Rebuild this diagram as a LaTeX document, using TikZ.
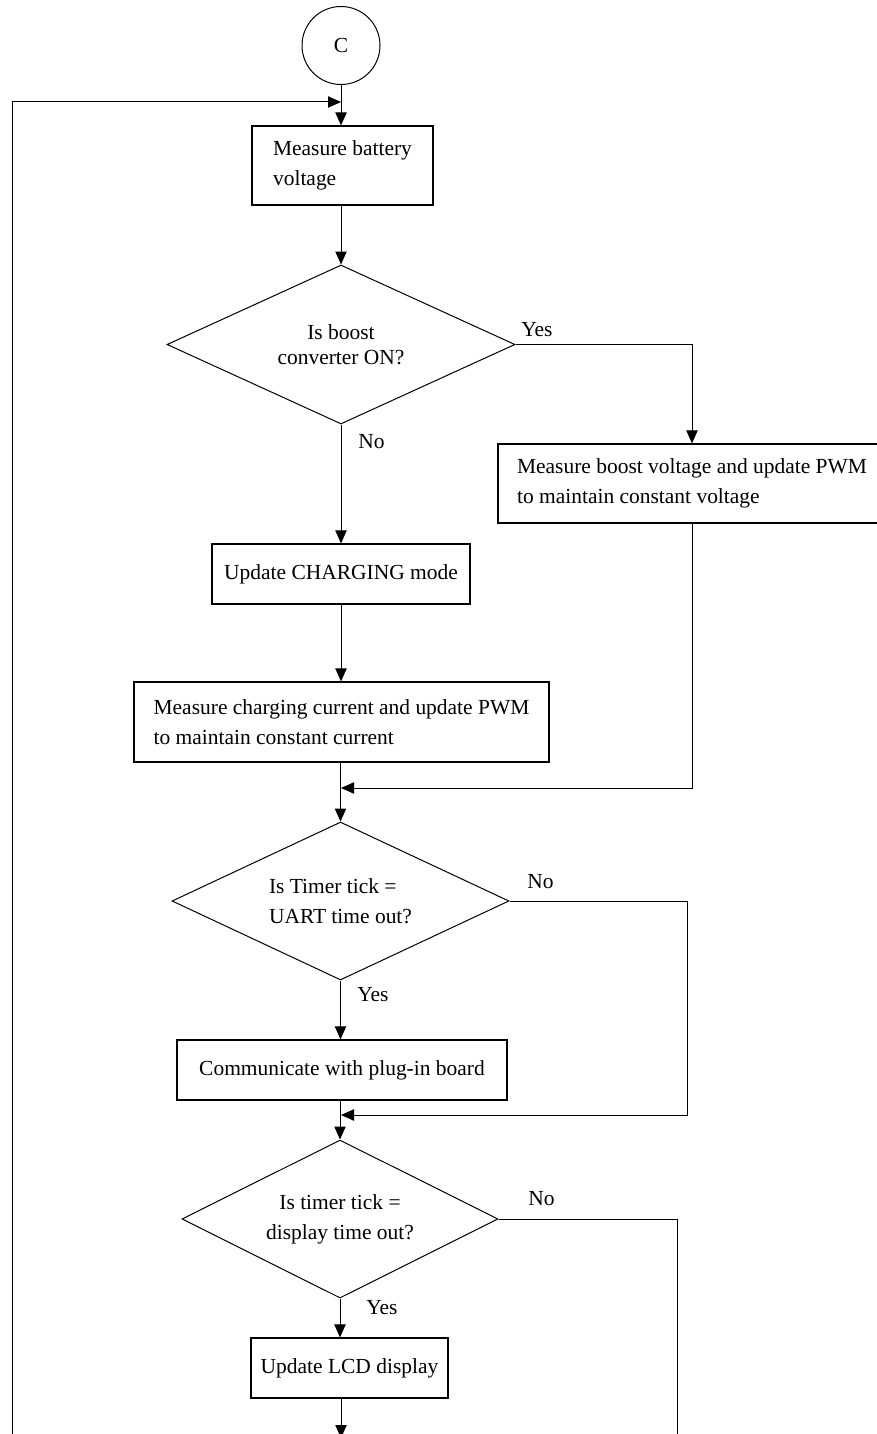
\documentclass[tikz,border=0pt]{standalone}
\usepackage{fontspec}
\setmainfont{Liberation Serif}
\usetikzlibrary{shapes.geometric,arrows.meta}

\tikzset{
	procbox/.style={draw, rectangle, line width=0.9pt, inner sep=2pt, align=left},
	decide/.style={draw, diamond, aspect=2.2, line width=0.75pt, inner sep=0pt},
	flow/.style={line width=0.75pt, -{Triangle[length=9.75pt,width=8.5pt]}},
	plain/.style={line width=0.75pt},
	lbl/.style={anchor=north west, inner sep=0.75pt}
}

\begin{document}
\begin{tikzpicture}[x=0.75pt,y=0.75pt,yscale=-1,xscale=1,font=\fontsize{16.1pt}{22.5pt}\selectfont]
	\useasboundingbox (0,0) rectangle (877,1434);
	
	%Shape: Circle [connector C]
	\node [draw, circle, line width=0.75pt, minimum size=58.5pt, inner sep=0pt] (conC) at (341,45.5) {C};
	%Shape: Rectangle
	\node [procbox, minimum width=135.75pt, minimum height=59.25pt] (battV) at (342.5,165.5) {Measure battery\\voltage};
	%Shape: Diamond
	\node [decide, align=center, minimum width=261pt, minimum height=119.25pt, font=\fontsize{16.1pt}{19pt}\selectfont] (isBoost) at (341,344.5) {Is boost\\converter ON?};
	%Shape: Rectangle
	\node [procbox, minimum width=291pt, minimum height=59.25pt] (boostV) at (692,483.5) {Measure boost voltage and update PWM\\to maintain constant voltage};
	%Shape: Rectangle
	\node [procbox, minimum width=193.5pt, minimum height=45pt] (chgMode) at (341,574) {Update CHARGING mode};
	%Shape: Rectangle
	\node [procbox, minimum width=311.25pt, minimum height=60pt] (chgI) at (341.5,722) {Measure charging current and update PWM\\to maintain constant current};
	%Shape: Diamond
	\node [decide, align=left, minimum width=252.75pt, minimum height=118.5pt] (isUart) at (340.5,901) {Is Timer tick =\\UART time out?};
	%Shape: Rectangle
	\node [procbox, minimum width=247.5pt, minimum height=45pt] (plugIn) at (342,1070) {Communicate with plug-in board};
	%Shape: Diamond
	\node [decide, align=center, minimum width=237pt, minimum height=118.5pt] (isDisp) at (340,1219) {Is timer tick =\\display time out?};
	%Shape: Rectangle
	\node [procbox, minimum width=147.75pt, minimum height=45pt] (lcdDisp) at (349.5,1368) {Update LCD display};
	
	%Free ends and joins
	\coordinate (loopIn) at (341,102);
	\coordinate (loopEnd) at (12,1440);
	\coordinate (joinA) at (341,788);
	\coordinate (cornA) at (692,788);
	\coordinate (joinB) at (341,1115);
	\coordinate (cornB) at (687,1115);
	\coordinate (cornC) at (677,1440);
	\coordinate (lcdOut) at (341,1438);
	
	%Straight Lines
	\draw [flow] (conC.south) -- (conC.south |- battV.north);
	\draw [flow] (loopEnd) |- (loopIn);
	\draw [flow] (battV.south -| isBoost.north) -- (isBoost.north);
	\draw [flow] (isBoost.east) -| (boostV.north);
	\draw [flow] (isBoost.south) -- (isBoost.south |- chgMode.north);
	\draw [flow] (chgMode.south) -- (chgMode.south |- chgI.north);
	\draw [flow] (chgI.south -| isUart.north) -- (isUart.north);
	\draw [flow] (boostV.south) -- (cornA) -- (joinA);
	\draw [flow] (isUart.east) -| (cornB) -- (joinB);
	\draw [flow] (isUart.south) -- (isUart.south |- plugIn.north);
	\draw [flow] (plugIn.south -| isDisp.north) -- (isDisp.north);
	\draw [plain] (isDisp.east) -| (cornC);
	\draw [flow] (isDisp.south) -- (isDisp.south |- lcdDisp.north);
	\draw [flow] (lcdDisp.south -| lcdOut) -- (lcdOut);
	
	% Text Node
	\node [lbl] (yesBoost) at (520,321) {Yes};
	% Text Node
	\node [lbl] (noBoost) at (357,433) {No};
	% Text Node
	\node [lbl] (noUart) at (526,873) {No};
	% Text Node
	\node [lbl] (yesUart) at (356,986) {Yes};
	% Text Node
	\node [lbl] (noDisp) at (527,1190) {No};
	% Text Node
	\node [lbl] (yesDisp) at (365,1299) {Yes};
	
\end{tikzpicture}
\end{document}
